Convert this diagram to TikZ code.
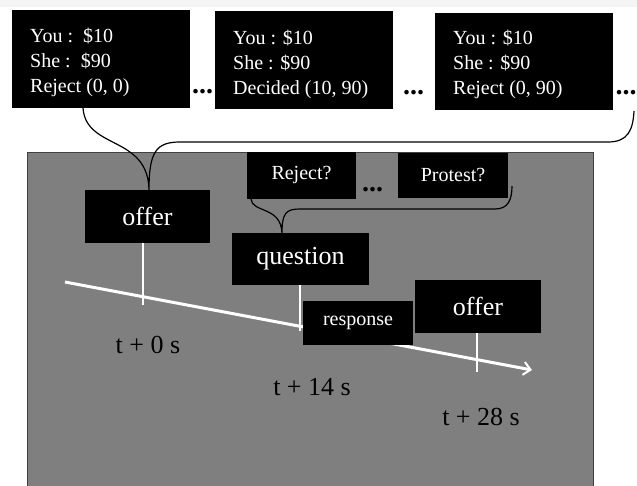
\documentclass[tikz,border=0pt]{standalone}
\usepackage{fontspec}
\setmainfont{Liberation Serif}
\usetikzlibrary{arrows.meta}
\definecolor{bggray}{RGB}{127,127,127}
\definecolor{topband}{RGB}{244,244,244}
\begin{document}
\begin{tikzpicture}[x=1pt,y=-1pt,
  blackbox/.style={fill=black,inner sep=0pt,text=white,align=center},
  toptext/.style={inner sep=0pt,text=white,align=left,font=\fontsize{20}{25}\selectfont,anchor=north west},
  bigword/.style={font=\fontsize{26}{30}\selectfont},
  smallword/.style={font=\fontsize{20}{24}\selectfont},
  dotsnode/.style={inner sep=0pt,font=\fontsize{28}{30}\selectfont\bfseries},
  brace/.style={draw=black,line width=1.2pt},
  vline/.style={draw=white,line width=1.5pt},
  timeline/.style={draw=white,line width=3pt,-{Straight Barb[length=7pt,width=13pt,line width=2pt]}},
  timelabel/.style={inner sep=0pt,anchor=base,font=\fontsize{26}{30}\selectfont}]
\clip (0,0) rectangle (637,485);
\fill[white] (0,0) rectangle (637,485);
\fill[topband] (0,0) rectangle (637,7);

% top boxes
\node[blackbox,minimum width=178pt,minimum height=98pt] (b1) at (101,59) {};
\node[blackbox,minimum width=178pt,minimum height=98pt] (b2) at (304,60) {};
\node[blackbox,minimum width=178pt,minimum height=97pt] (b3) at (524,61.5) {};
\node[toptext] (t1) at (30,28) {You :\ \ \$10\\She :\ \ \$90\\Reject (0, 0)};
\node[toptext] (t2) at (233,30) {You : \$10\\She : \$90\\Decided (10, 90)};
\node[toptext] (t3) at (453,30) {You : \$10\\She : \$90\\Reject (0, 90)};
\node[dotsnode,anchor=base] (d1) at (202.5,93) {...};
\node[dotsnode,anchor=base] (d2) at (413.5,94) {...};
\node[dotsnode,anchor=base] (d3) at (626,94) {...};

% main panel
\node[draw=black!75,fill=bggray,line width=1pt,minimum width=566pt,minimum height=334pt,inner sep=0pt] (panel) at (310,319) {};

% timeline and ticks
\coordinate (tl0) at (65,282);
\coordinate (tl1) at (532,370);
\draw[timeline] (tl0) -- (tl1);

\node[blackbox,bigword,minimum width=125pt,minimum height=53pt] (o1) at (147.5,216.5) {offer};
\node[blackbox,bigword,minimum width=137pt,minimum height=52pt] (q) at (300.5,259) {question};
\node[blackbox,bigword,minimum width=126pt,minimum height=53pt] (o2) at (478,306.5) {offer};

\coordinate (k1) at (143,305);
\coordinate (k2) at (300,331);
\coordinate (k3) at (477,372);
\draw[vline] (o1.south -| k1) -- (k1);
\draw[vline] (q.south -| k2) -- (k2);
\draw[vline] (o2.south -| k3) -- (k3);

\node[blackbox,smallword,minimum width=110pt,minimum height=44pt] (r) at (358,323) {response};

\node[blackbox,smallword,minimum width=109pt,minimum height=47pt] (rej) at (301.5,175.5) {Reject?};
\node[blackbox,smallword,minimum width=110pt,minimum height=45pt] (pro) at (453,175.5) {Protest?};
\node[dotsnode,anchor=base] (d4) at (372.5,191) {...};

% braces
\coordinate (bL) at (83,108);
\coordinate (tip1) at (149,190);
\coordinate (bR) at (634,111);
\draw[brace] (bL) .. controls (86,150) and (148,135) .. (tip1)
  .. controls (149,152) and (156,142) .. (180,142) -- (608,142)
  .. controls (628,142) and (633,130) .. (bR);

\coordinate (rL) at (251,199);
\coordinate (tip2) at (282,233);
\coordinate (rR) at (512,186);
\draw[brace] (rL) .. controls (252,213) and (281,206) .. (tip2)
  .. controls (282,213) and (286,209) .. (300,209) -- (495,209)
  .. controls (508,209) and (512,200) .. (rR);

% time labels
\node[timelabel] (l0) at (148,353) {t + 0 s};
\node[timelabel] (l14) at (312,395) {t + 14 s};
\node[timelabel] (l28) at (481,425) {t + 28 s};
\end{tikzpicture}
\end{document}
